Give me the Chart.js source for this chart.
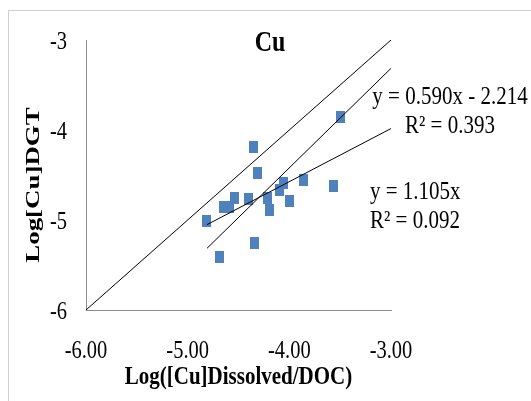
<!DOCTYPE html>
<html>
<head>
<meta charset="utf-8">
<title>Cu</title>
<script src="https://cdn.jsdelivr.net/npm/chart.js@4/dist/chart.umd.min.js"></script>
<style>
  html, body { margin: 0; padding: 0; background: #ffffff; }
  #chart { display: block; }
</style>
</head>
<body>
<canvas id="chart" width="531" height="401"></canvas>
<script>
// Log-transformed Cu: dissolved/DOC ratio against DGT-measured concentration
const xDissolvedDOC = [-4.81, -4.69, -4.65, -4.59, -4.54, -4.40, -4.35, -4.31, -4.34,
                       -4.21, -4.20, -4.10, -4.06, -4.00, -3.86, -3.57, -3.50];
const yDGT          = [-5.01, -5.41, -4.86, -4.86, -4.75, -4.77, -4.19, -4.48, -5.25,
                       -4.76, -4.89, -4.67, -4.59, -4.79, -4.56, -4.62, -3.85];

// axis tick values and their labels
const xTickValues = [-6, -5, -4, -3];
const xTickLabels = ['-6.00', '-5.00', '-4.00', '-3.00'];
const yTickValues = [-6, -5, -4, -3];
const yTickLabels = ['-6', '-5', '-4', '-3'];

// fitted trendlines (slope, intercept) and their printed statistics
const fitSlopes     = [0.590, 1.105];
const fitIntercepts = [-2.214, 0];
const fitLabels = [
  ['y = 0.590x - 2.214', 'R² = 0.393'],
  ['y = 1.105x', 'R² = 0.092']
];

// 1:1 reference line
const identityX = [-6, -3];

const SERIF = '"Liberation Serif", "Times New Roman", serif';
// the figure is drawn taller than wide: text glyphs are stretched vertically
const TEXT_STRETCH = 1.2;
const PAGE_STRETCH = 1.38;

const xMin = Math.min(...xDissolvedDOC);
const xMax = -3;
const fitLine = (i) => [xMin, xMax].map(x => ({ x, y: fitSlopes[i] * x + fitIntercepts[i] }));

// marker: small filled rectangle
const marker = document.createElement('canvas');
marker.width = 9;
marker.height = 12;
(function () {
  const c = marker.getContext('2d');
  c.fillStyle = '#4F81BD';
  c.fillRect(0, 0, 9, 12);
})();

// outer frame of the figure
const framePlugin = {
  id: 'frame',
  beforeDraw(chart) {
    const ctx = chart.ctx;
    ctx.save();
    ctx.fillStyle = '#ffffff';
    ctx.fillRect(0, 0, chart.width, chart.height);
    ctx.strokeStyle = '#cfcfcf';
    ctx.lineWidth = 1;
    ctx.strokeRect(8.5, 10.5, chart.width + 20, chart.height + 20);
    ctx.restore();
  }
};

// rotated y-axis caption and trendline equation texts
const textPlugin = {
  id: 'texts',
  afterDraw(chart) {
    const ctx = chart.ctx;
    const plainFill = ctx._plainFillText || ctx.fillText;
    ctx.save();
    ctx.fillStyle = '#000000';

    // vertical caption: lengthened along the page height
    ctx.font = 'bold 19.5px ' + SERIF;
    ctx.textAlign = 'center';
    ctx.textBaseline = 'middle';
    ctx.translate(34, 185);
    ctx.rotate(-Math.PI / 2);
    ctx.scale(PAGE_STRETCH, 1);
    plainFill.call(ctx, 'Log[Cu]DGT', 0, 0);
    ctx.setTransform(1, 0, 0, 1, 0, 0);

    ctx.font = '21px ' + SERIF;
    ctx.textAlign = 'center';
    ctx.fillText(fitLabels[0][0], 450, 97);
    ctx.fillText(fitLabels[0][1], 450, 126);
    ctx.textAlign = 'left';
    ctx.fillText(fitLabels[1][0], 370, 192);
    ctx.fillText(fitLabels[1][1], 370, 221);
    ctx.restore();
  }
};

// every horizontal text run is stretched vertically about its anchor
const narrowTextPlugin = {
  id: 'narrowText',
  beforeDraw(chart) {
    const ctx = chart.ctx;
    if (ctx._plainFillText) return;
    ctx._plainFillText = ctx.fillText;
    ctx.fillText = function (text, x, y, maxWidth) {
      this.save();
      this.translate(x, y);
      this.scale(1, TEXT_STRETCH);
      if (maxWidth === undefined) {
        this._plainFillText(text, 0, 0);
      } else {
        this._plainFillText(text, 0, 0, maxWidth);
      }
      this.restore();
    };
  },
  afterDraw(chart) {
    const ctx = chart.ctx;
    if (ctx._plainFillText) {
      ctx.fillText = ctx._plainFillText;
      delete ctx._plainFillText;
    }
  }
};

new Chart(document.getElementById('chart'), {
  type: 'scatter',
  data: {
    datasets: [
      {
        label: 'Cu',
        data: xDissolvedDOC.map((x, i) => ({ x, y: yDGT[i] })),
        pointStyle: marker,
        pointRadius: 5,
        order: 3
      },
      {
        label: '1:1',
        data: identityX.map(v => ({ x: v, y: v })),
        showLine: true,
        borderColor: '#000000',
        borderWidth: 1,
        pointRadius: 0,
        order: 0
      },
      {
        label: fitLabels[0][0],
        data: fitLine(0),
        showLine: true,
        borderColor: '#000000',
        borderWidth: 1,
        pointRadius: 0,
        order: 1
      },
      {
        label: fitLabels[1][0],
        data: fitLine(1),
        showLine: true,
        borderColor: '#000000',
        borderWidth: 1,
        pointRadius: 0,
        order: 2
      }
    ]
  },
  options: {
    responsive: false,
    animation: false,
    events: [],
    layout: { padding: { left: 9, right: 0, top: 0, bottom: 0 } },
    plugins: {
      legend: { display: false },
      tooltip: { enabled: false },
      title: {
        display: true,
        text: 'Cu',
        color: '#000000',
        font: { family: SERIF, size: 24, weight: 'bold' },
        padding: { top: 29.6, bottom: -18.4 }
      }
    },
    scales: {
      x: {
        type: 'linear',
        min: -6,
        max: -3,
        afterBuildTicks(s) { s.ticks = xTickValues.map(v => ({ value: v })); },
        afterFit(s) { s.height = 91; },
        grid: { display: false, drawTicks: false },
        border: { display: true, color: '#8c8c8c', width: 1 },
        ticks: {
          padding: 29,
          color: '#000000',
          font: { family: SERIF, size: 20.5 },
          callback: (v) => xTickLabels[xTickValues.indexOf(v)]
        },
        title: {
          display: true,
          text: 'Log([Cu]Dissolved/DOC)',
          color: '#000000',
          font: { family: SERIF, size: 21, weight: 'bold' },
          padding: { top: 0, bottom: 11 }
        }
      },
      y: {
        type: 'linear',
        min: -6,
        max: -3,
        afterBuildTicks(s) { s.ticks = yTickValues.map(v => ({ value: v })); },
        afterFit(s) { s.width = 77; },
        grid: { display: false, drawTicks: false },
        border: { display: true, color: '#8c8c8c', width: 1 },
        ticks: {
          padding: 19,
          labelOffset: 3,
          color: '#000000',
          font: { family: SERIF, size: 20.5 },
          callback: (v) => yTickLabels[yTickValues.indexOf(v)]
        }
      },
      // empty right-hand gutter that holds the equation texts
      gutter: {
        type: 'linear',
        position: 'right',
        display: true,
        grid: { display: false, drawTicks: false },
        border: { display: false },
        ticks: { display: false },
        afterFit(s) { s.width = 140; }
      }
    }
  },
  plugins: [framePlugin, textPlugin, narrowTextPlugin]
});
</script>
</body>
</html>
